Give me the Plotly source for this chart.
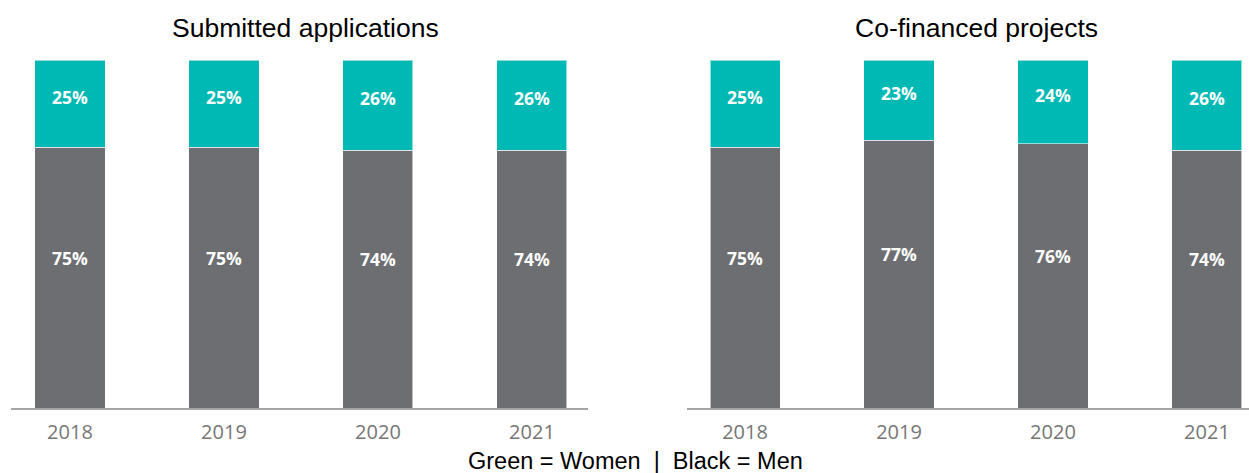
import plotly.graph_objects as go

# Share of women and men, by year
years = ["2018", "2019", "2020", "2021"]
applications_women = [25, 25, 26, 26]
applications_men = [75, 75, 74, 74]
projects_women = [25, 23, 24, 26]
projects_men = [75, 77, 76, 74]

panel_titles = ["Submitted applications", "Co-financed projects"]
footer_text = "Green = Women\u00a0\u00a0|\u00a0\u00a0Black = Men"

TEAL = "#00B9B4"
GREY = "#6D6E71"
W, H = 1249, 473
M_TOP, M_BOTTOM = 60, 65
PLOT_H = H - M_TOP - M_BOTTOM


def paper_y(px):
    """Convert a pixel row of the page into paper coordinates."""
    return (H - M_BOTTOM - px) / PLOT_H


fig = go.Figure()

panels = [
    ("x", "y", applications_women, applications_men),
    ("x2", "y2", projects_women, projects_men),
]

for xa, ya, women, men in panels:
    fig.add_trace(go.Bar(
        x=years, y=men, xaxis=xa, yaxis=ya, width=0.455,
        marker=dict(color=GREY, line=dict(color="rgba(255,255,255,0.55)", width=1)),
        hoverinfo="skip", showlegend=False,
    ))
    fig.add_trace(go.Bar(
        x=years, y=women, xaxis=xa, yaxis=ya, width=0.455,
        marker=dict(color=TEAL, line=dict(color="rgba(255,255,255,0.55)", width=1)),
        hoverinfo="skip", showlegend=False,
    ))

annotations = []
label_font = dict(family="Open Sans", size=17.5, color="white", weight="bold")
for xa, ya, women, men in panels:
    for i, (w, m) in enumerate(zip(women, men)):
        annotations.append(dict(
            x=i, y=m / 2, xref=xa, yref=ya, text=f"{m}%",
            showarrow=False, yshift=20, font=label_font,
        ))
        annotations.append(dict(
            x=i, y=m + w / 2, xref=xa, yref=ya, text=f"{w}%",
            showarrow=False, yshift=7, font=label_font,
        ))

title_font = dict(family="Liberation Sans, Arial", size=26.5, color="#000000")
annotations.append(dict(x=305 / W, y=paper_y(28), xref="paper", yref="paper",
                        text=panel_titles[0], showarrow=False, font=title_font,
                        xanchor="center", yanchor="middle"))
annotations.append(dict(x=977 / W, y=paper_y(28), xref="paper", yref="paper",
                        text=panel_titles[1], showarrow=False, font=title_font,
                        xanchor="center", yanchor="middle"))
annotations.append(dict(x=635 / W, y=paper_y(461), xref="paper", yref="paper",
                        text=footer_text, showarrow=False,
                        font=dict(family="Liberation Sans, Arial", size=23.5, color="#000000"),
                        xanchor="center", yanchor="middle"))

xaxis_common = dict(
    type="category", showgrid=False, zeroline=False,
    showline=True, linecolor="#A6A6A6", linewidth=2,
    ticks="", tickfont=dict(family="Open Sans", size=20, color="#767676"),
    ticklabelstandoff=5, fixedrange=True,
)
yaxis_common = dict(range=[0, 100], visible=False, fixedrange=True)

fig.update_layout(
    width=W, height=H,
    margin=dict(l=0, r=0, t=M_TOP, b=M_BOTTOM),
    paper_bgcolor="white", plot_bgcolor="white",
    barmode="stack",
    xaxis=dict(domain=[11 / W, 588 / W], range=[-0.383, 3.364], anchor="y", **xaxis_common),
    yaxis=dict(anchor="x", **yaxis_common),
    xaxis2=dict(domain=[687 / W, 1.0], range=[-0.377, 3.273], anchor="y2", **xaxis_common),
    yaxis2=dict(anchor="x2", **yaxis_common),
    annotations=annotations,
)

fig.write_html("out.html")
